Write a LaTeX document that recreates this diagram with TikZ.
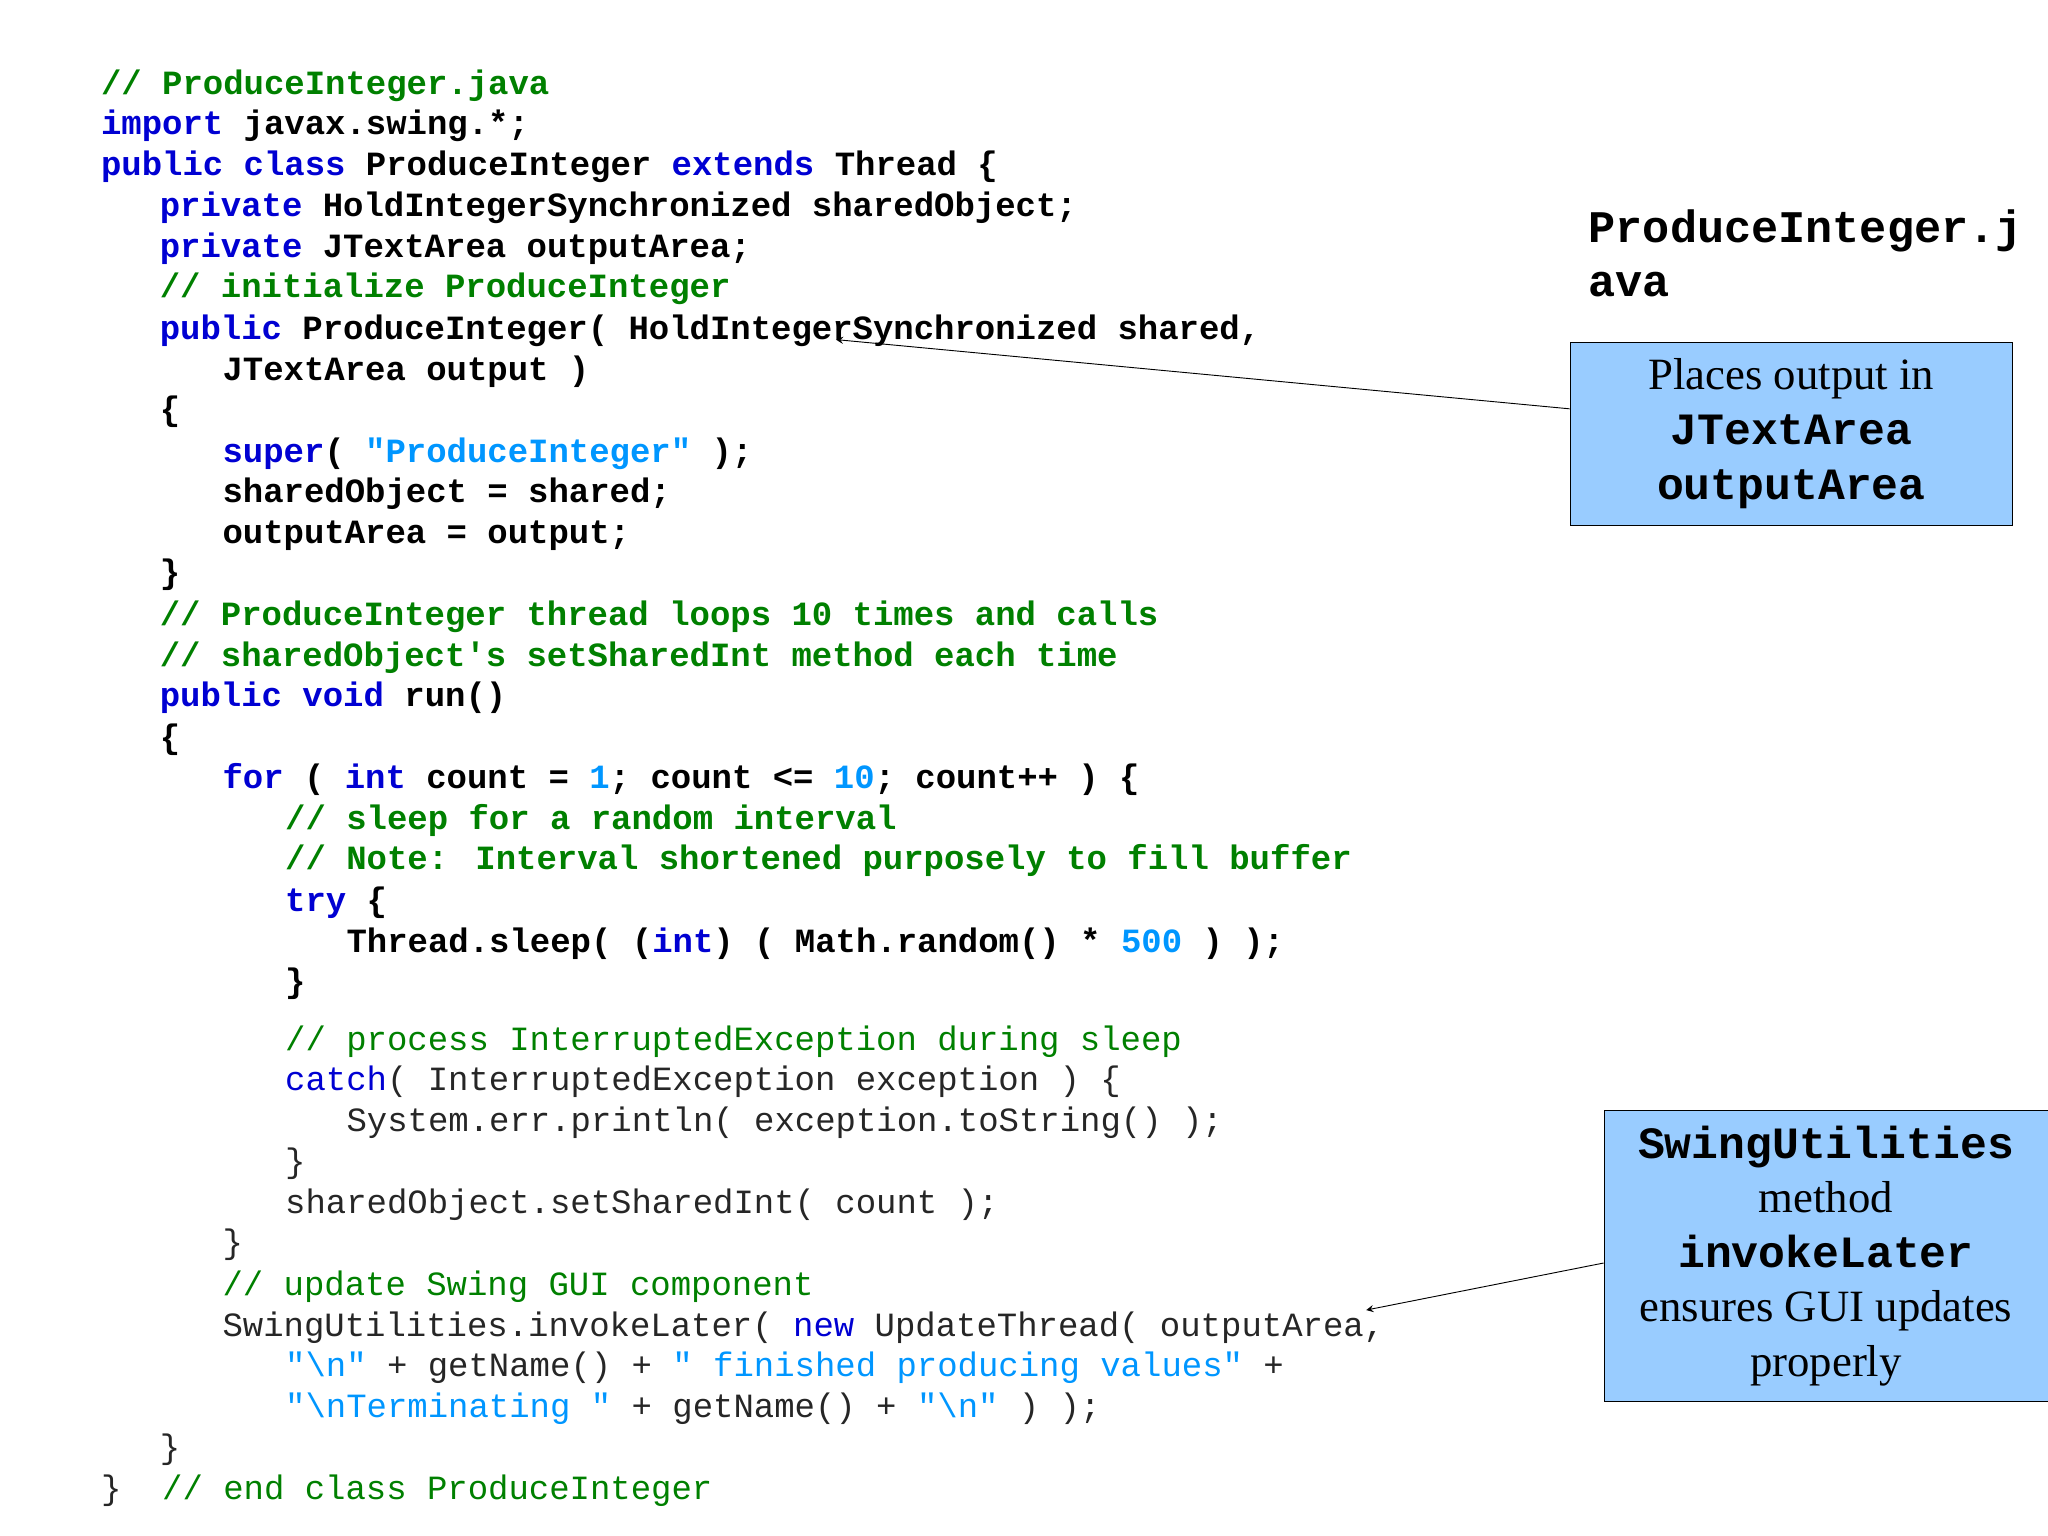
\documentclass[tikz,border=0pt]{standalone}
\usepackage{fontspec}
\setmainfont{Liberation Serif}
\newfontfamily\codefont[Ligatures=ResetAll]{Liberation Mono}
\usetikzlibrary{arrows}
\definecolor{cmgreen}{RGB}{0,128,0}
\definecolor{kwblue}{RGB}{0,0,210}
\definecolor{ltblue}{RGB}{0,150,255}
\definecolor{boxblue}{RGB}{153,204,255}
\newcommand\kw[1]{{\color{kwblue}#1}}
\newcommand\cm[1]{{\color{cmgreen}#1}}
\newcommand\lt[1]{{\color{ltblue}#1}}
\begin{document}
\begin{tikzpicture}[x=0.02cm,y=-0.02cm]
\tikzstyle{code} = [anchor=base west, inner sep=0pt, font=\codefont\bfseries\fontsize{14.8}{17}\selectfont]
\tikzstyle{codel} = [anchor=base west, inner sep=0pt, text=black!85, font=\codefont\fontsize{14.8}{17}\selectfont]
\tikzstyle{note} = [rectangle, draw=black, fill=boxblue, align=center, font=\fontsize{19.5}{23.8}\selectfont]
\tikzstyle{arrow} = [->,>=stealth, thin]
\newcommand\mono[1]{{\codefont\bfseries #1}}

\useasboundingbox (0,0) rectangle (1568,1176);

%code lines
\node (l1) [code] at (77,72) {\cm{// ProduceInteger.java}};
\node (l2) [code] at (77,103) {\kw{import} javax.swing.*;};
\node (l3) [code] at (77,134) {\kw{public class} ProduceInteger \kw{extends} Thread \{};
\node (l4) [code] at (122,166) {\kw{private} HoldIntegerSynchronized sharedObject;};
\node (l5) [code] at (122,197) {\kw{private} JTextArea outputArea;};
\node (l6) [code] at (122,228) {\cm{// initialize ProduceInteger}};
\node (l7) [code] at (122,260) {\kw{public} ProduceInteger( HoldIntegerSynchronized shared,};
\node (l8) [code] at (170,291) {JTextArea output )};
\node (l9) [code] at (122,322) {\{};
\node (l10) [code] at (170,354) {\kw{super}( \lt{"ProduceInteger"} );};
\node (l11) [code] at (170,385) {sharedObject = shared;};
\node (l12) [code] at (170,416) {outputArea = output;};
\node (l13) [code] at (122,447) {\}};
\node (l14) [code] at (122,479) {\cm{// ProduceInteger thread loops 10 times and calls}};
\node (l15) [code] at (122,510) {\cm{// sharedObject{\char39}s setSharedInt method each time}};
\node (l16) [code] at (122,541) {\kw{public void} run()};
\node (l17) [code] at (122,573) {\{};
\node (l18) [code] at (170,604) {\kw{for} ( \kw{int} count = \lt{1}; count <= \lt{10}; count++ ) \{};
\node (l19) [code] at (218,635) {\cm{// sleep for a random interval}};
\node (l20) [code] at (218,666) {\cm{// Note: Interval shortened purposely to fill buffer}};
\node (l21) [code] at (218,698) {\kw{try} \{};
\node (l22) [code] at (265,729) {Thread.sleep( (\kw{int}) ( Math.random() * \lt{500} ) );};
\node (l23) [code] at (218,760) {\}};
\node (l24) [codel] at (218,804) {\cm{// process InterruptedException during sleep}};
\node (l25) [codel] at (218,835) {\kw{catch}( InterruptedException exception ) \{};
\node (l26) [codel] at (265,866) {System.err.println( exception.toString() );};
\node (l27) [codel] at (218,898) {\}};
\node (l28) [codel] at (218,929) {sharedObject.setSharedInt( count );};
\node (l29) [codel] at (170,960) {\}};
\node (l30) [codel] at (170,992) {\cm{// update Swing GUI component}};
\node (l31) [codel] at (170,1023) {SwingUtilities.invokeLater( \kw{new} UpdateThread( outputArea,};
\node (l32) [codel] at (218,1054) {\lt{"\textbackslash n"} + getName() + \lt{" finished producing values"} +};
\node (l33) [codel] at (218,1085) {\lt{"\textbackslash nTerminating "} + getName() + \lt{"\textbackslash n"} ) );};
\node (l34) [codel] at (122,1117) {\}};
\node (l35) [codel] at (77,1148) {\}\ \ \cm{// end class ProduceInteger}};

%title
\node (title) [anchor=north west, inner sep=0pt, align=left, font=\codefont\bfseries\fontsize{19.7}{23.5}\selectfont] at (1216,160) {ProduceInteger.j\\ava};

%notes
\node (note1) [note, minimum width=6.78cm, minimum height=2.8cm] at (1371.5,332)
  {Places output in\\\mono{JTextArea}\\\mono{outputArea}};
\node (note2) [note, minimum width=6.8cm, minimum height=4.46cm] at (1398,961.5)
  {\mono{SwingUtilities}\\method\\\mono{invokeLater}\\ensures GUI updates\\properly};

%arrows
\coordinate (tip1) at (640,260);
\coordinate (tip2) at (1046,1003);
\draw [arrow] (note1.west |- 0,313) -- (tip1);
\draw [arrow] (note2.west |- 0,967) -- (tip2);
\end{tikzpicture}
\end{document}
